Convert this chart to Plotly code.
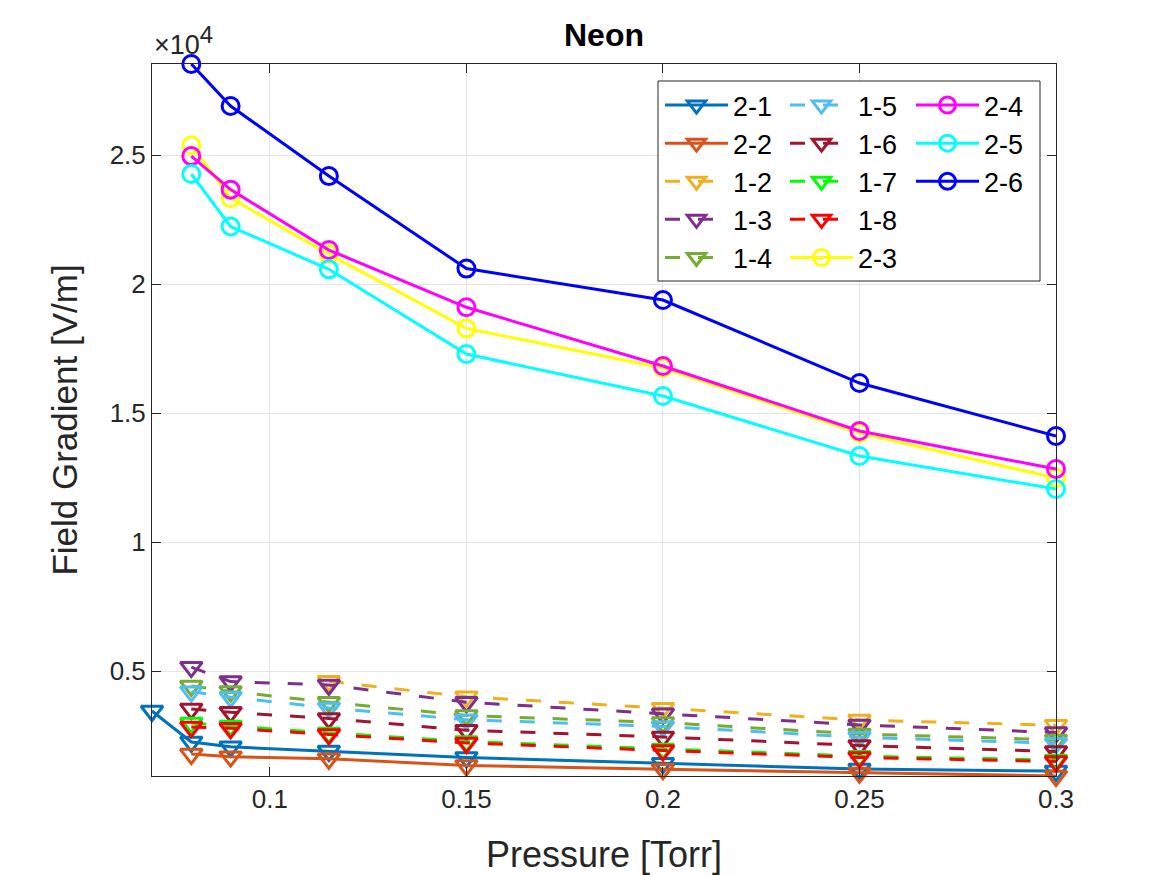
import plotly.graph_objects as go

# ---------------- data ----------------
pressure_all = [0.07, 0.08, 0.09, 0.115, 0.15, 0.2, 0.25, 0.3]
pressure = [0.08, 0.09, 0.115, 0.15, 0.2, 0.25, 0.3]
pressure_12 = [0.115, 0.15, 0.2, 0.25, 0.3]

s_2_1 = [3450, 2250, 2060, 1900, 1650, 1420, 1200, 1120]
s_2_2 = [1780, 1680, 1600, 1340, 1190, 1050, 930]
s_1_2 = [4600, 4000, 3560, 3100, 2900]
s_1_3 = [5150, 4590, 4460, 3790, 3340, 2910, 2616]
s_1_4 = [4420, 4205, 3790, 3275, 3000, 2560, 2330]
s_1_5 = [4200, 3985, 3570, 3110, 2850, 2430, 2200]
s_1_6 = [3530, 3400, 3160, 2705, 2442, 2112, 1880]
s_1_7 = [2980, 2870, 2600, 2270, 1980, 1700, 1550]
s_1_8 = [2830, 2780, 2540, 2210, 1920, 1647, 1492]
s_2_3 = [25380, 23330, 21160, 18280, 16744, 14225, 12480]
s_2_4 = [24961, 23660, 21318, 19100, 16822, 14302, 12829]
s_2_5 = [24264, 22230, 20570, 17287, 15659, 13333, 12054]
s_2_6 = [28530, 26900, 24186, 20600, 19380, 16163, 14109]

ytick_vals = [5000, 10000, 15000, 20000, 25000]
ytick_text = ["0.5", "1", "1.5", "2", "2.5"]
xtick_vals = [0.1, 0.15, 0.2, 0.25, 0.3]
xtick_text = ["0.1", "0.15", "0.2", "0.25", "0.3"]

# (name, x, y, color, dash, symbol, legend)
series = [
    ("2-1", pressure_all, s_2_1, "#0072BD", "solid", "triangle-down-open", "legend"),
    ("2-2", pressure, s_2_2, "#D95319", "solid", "triangle-down-open", "legend"),
    ("1-2", pressure_12, s_1_2, "#EDB120", "15px,18px", "triangle-down-open", "legend"),
    ("1-3", pressure, s_1_3, "#7E2F8E", "15px,18px", "triangle-down-open", "legend"),
    ("1-4", pressure, s_1_4, "#77AC30", "15px,18px", "triangle-down-open", "legend"),
    ("1-5", pressure, s_1_5, "#4DBEEE", "15px,18px", "triangle-down-open", "legend2"),
    ("1-6", pressure, s_1_6, "#A2142F", "15px,18px", "triangle-down-open", "legend2"),
    ("1-7", pressure, s_1_7, "#00FF00", "15px,18px", "triangle-down-open", "legend2"),
    ("1-8", pressure, s_1_8, "#FF0000", "15px,18px", "triangle-down-open", "legend2"),
    ("2-3", pressure, s_2_3, "#FFFF00", "solid", "circle-open", "legend2"),
    ("2-4", pressure, s_2_4, "#FF00FF", "solid", "circle-open", "legend3"),
    ("2-5", pressure, s_2_5, "#00FFFF", "solid", "circle-open", "legend3"),
    ("2-6", pressure, s_2_6, "#0000FF", "solid", "circle-open", "legend3"),
]

FONT = "Liberation Sans, Arial, Helvetica, sans-serif"
AX = "#262626"

fig = go.Figure()
for name, xs, ys, col, dash, sym, leg in series:
    msize = 19 if sym.startswith("triangle") else 17
    fig.add_trace(go.Scatter(
        x=xs, y=ys, name=name, mode="lines+markers",
        line=dict(color=col, width=3, dash=dash),
        marker=dict(symbol=sym, size=msize, color=col, line=dict(color=col, width=3)),
        cliponaxis=False, legend=leg, legendgroup=name,
    ))

all_y = [v for s in series for v in s[2]]
all_x = [v for s in series for v in s[1]]

W, H = 1167, 875
L, R, T, B = 152, 111, 64, 99

fig.update_xaxes(
    range=[min(all_x), max(all_x)], tickvals=xtick_vals, ticktext=xtick_text,
    showgrid=True, gridcolor="#e3e3e3", gridwidth=1, zeroline=False,
    showline=True, linecolor=AX, linewidth=1, mirror="ticks",
    ticks="inside", ticklen=9, tickcolor=AX, tickwidth=1,
    tickfont=dict(family=FONT, size=26, color=AX),
    title=dict(text="Pressure [Torr]", font=dict(family=FONT, size=36, color=AX), standoff=28),
)
fig.update_yaxes(
    range=[min(all_y), max(all_y)], tickvals=ytick_vals, ticktext=ytick_text,
    showgrid=True, gridcolor="#e3e3e3", gridwidth=1, zeroline=False,
    showline=True, linecolor=AX, linewidth=1, mirror="ticks",
    ticks="inside", ticklen=9, tickcolor=AX, tickwidth=1,
    tickfont=dict(family=FONT, size=26, color=AX),
    title=dict(text="Field Gradient [V/m]", font=dict(family=FONT, size=35, color=AX), standoff=21),
)

pw, ph = W - L - R, H - T - B
def px2paper_x(px):
    return (px - L) / pw
def px2paper_y(py):
    return (H - B - py) / ph

leg_common = dict(
    bgcolor="rgba(0,0,0,0)", borderwidth=0, font=dict(family=FONT, size=27, color="black"),
    itemwidth=63, xanchor="left", yanchor="top", tracegroupgap=0, orientation="v",
    itemclick=False, itemdoubleclick=False,
)
legend_top = px2paper_y(81)
fig.update_layout(
    legend=dict(x=px2paper_x(660), y=legend_top, **leg_common),
    legend2=dict(x=px2paper_x(785), y=legend_top, **leg_common),
    legend3=dict(x=px2paper_x(911), y=legend_top, **leg_common),
)

# legend box
fig.add_shape(type="rect", xref="paper", yref="paper",
              x0=px2paper_x(658), x1=px2paper_x(1040), y0=px2paper_y(281), y1=px2paper_y(81),
              fillcolor="white", line=dict(color=AX, width=1), layer="above")

# exponent label
fig.add_annotation(text="×10<sup><span style='font-size:24px'>4</span></sup>",
                   xref="paper", yref="paper", x=0, y=1,
                   xanchor="left", yanchor="bottom", showarrow=False, yshift=2,
                   font=dict(family=FONT, size=27, color=AX))

fig.update_layout(
    width=W, height=H,
    margin=dict(l=L, r=R, t=T, b=B, autoexpand=False),
    paper_bgcolor="white", plot_bgcolor="white",
    title=dict(text="<b>Neon</b>", x=px2paper_x(604), xref="paper", xanchor="center",
               y=1 - 35 / H, yref="container", yanchor="middle",
               font=dict(family=FONT, size=32, color="black")),
    showlegend=True,
)

fig.write_html("out.html")
